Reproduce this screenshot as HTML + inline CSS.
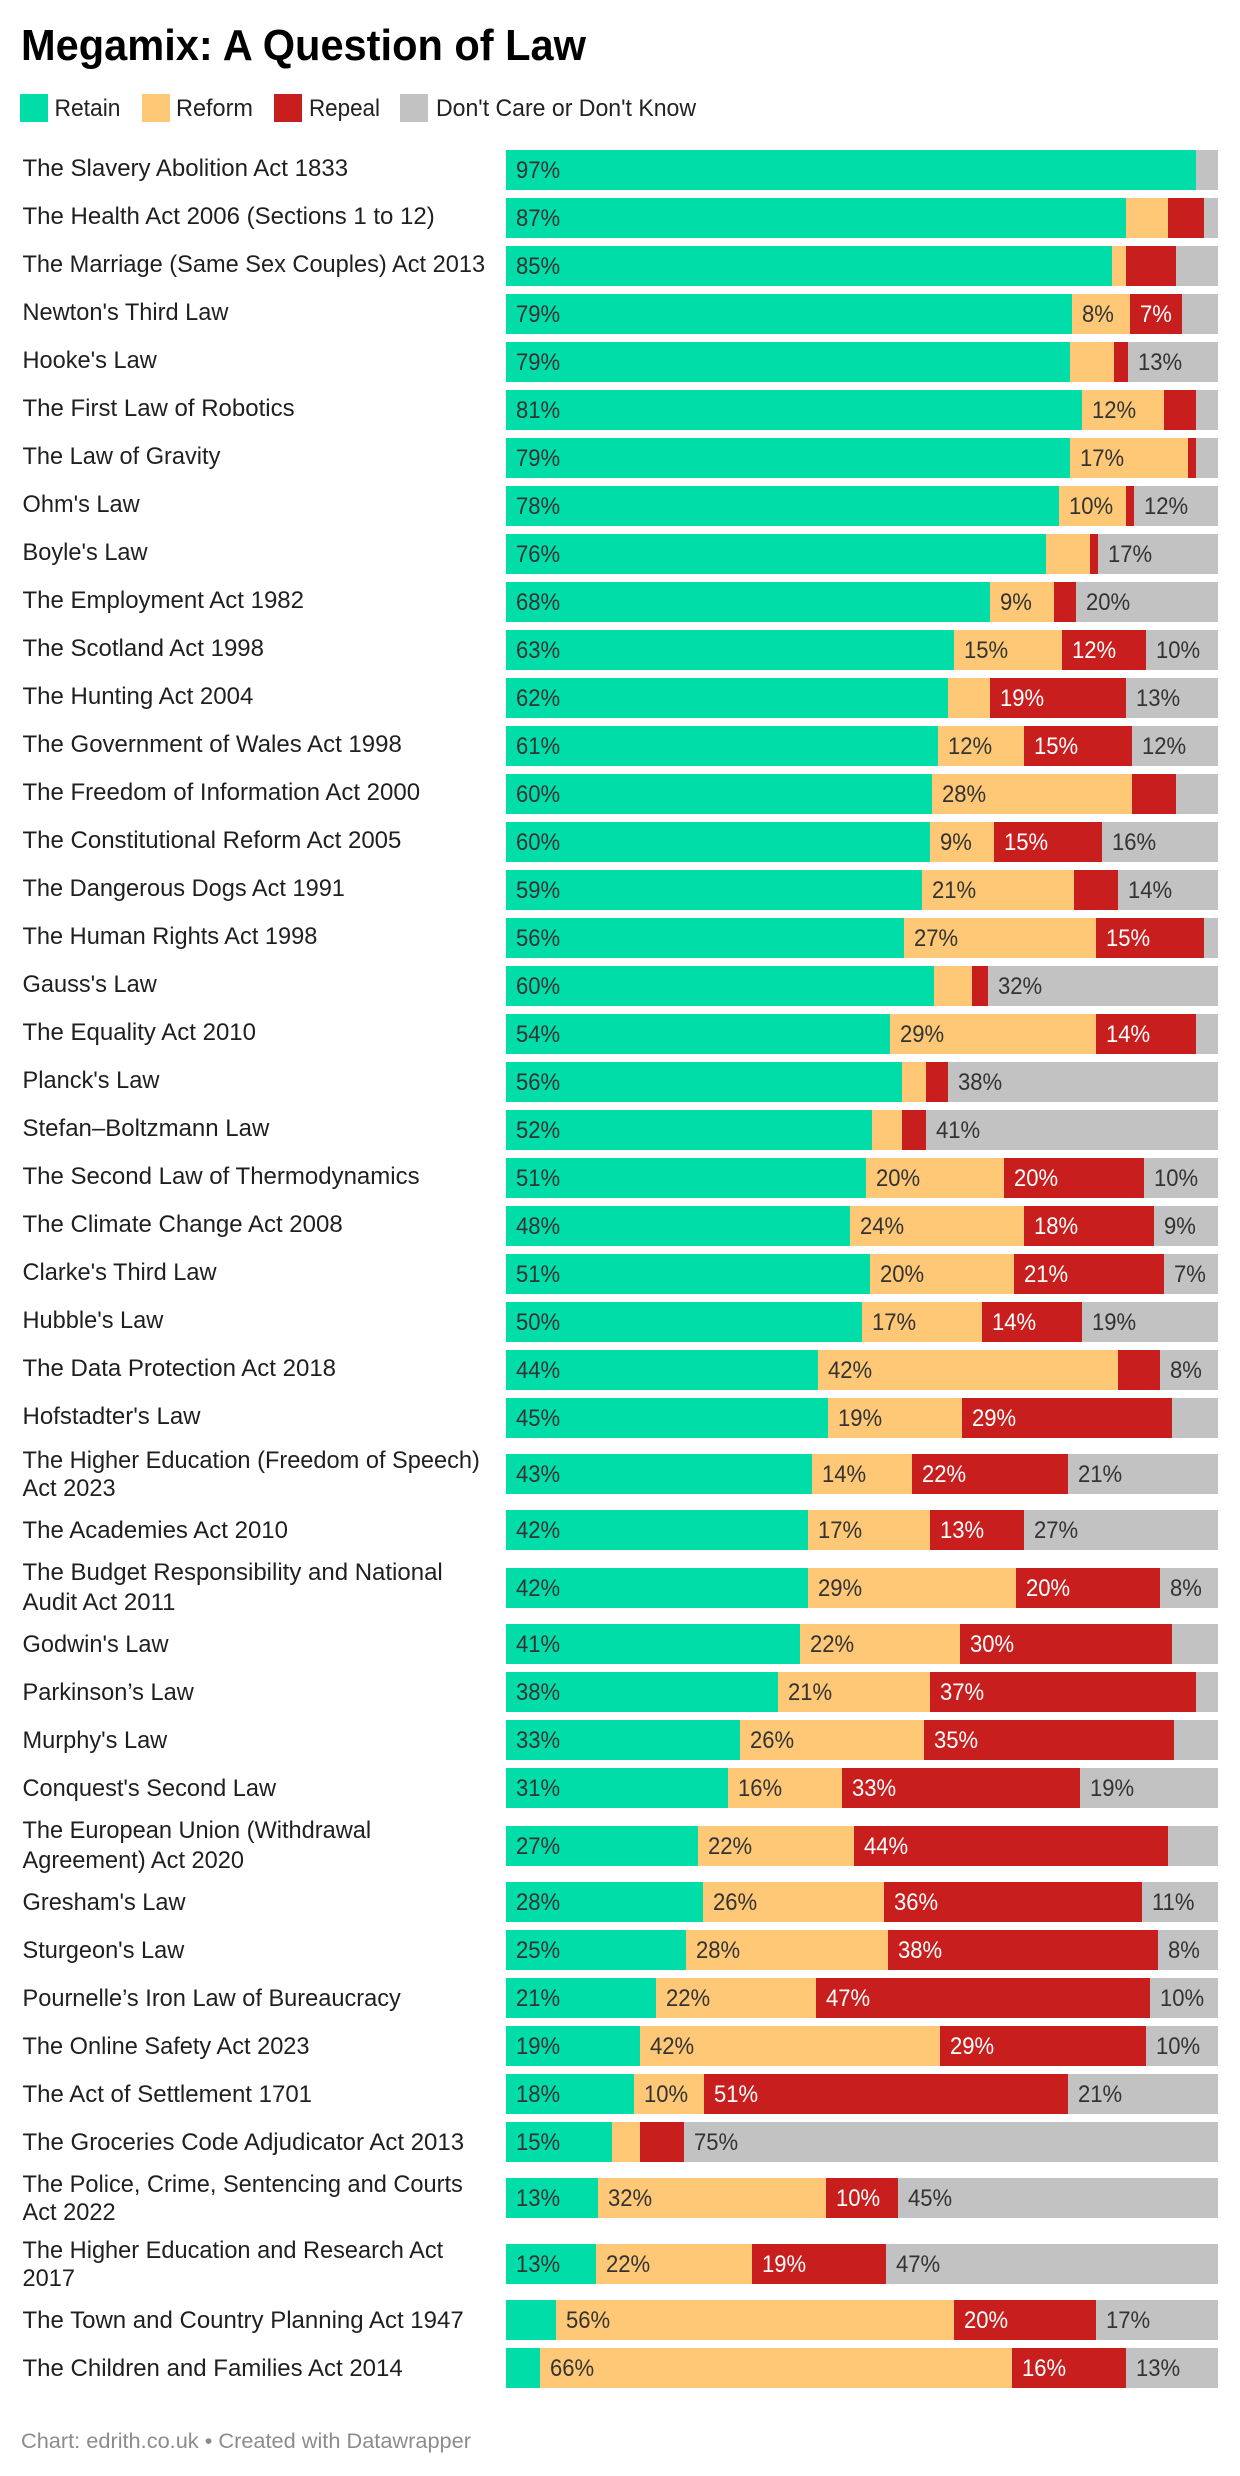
<!DOCTYPE html>
<html lang="en">
<head>
<meta charset="utf-8">
<title>Megamix: A Question of Law</title>
<style>
html,body{margin:0;padding:0;background:#fff;}
body{width:1240px;height:2476px;overflow:hidden;}
svg{display:block;font-family:"Liberation Sans",Arial,sans-serif;}
.cat{font-size:24px;fill:#1f1f1f;}
.val{font-size:24px;}
.leg{font-size:24px;fill:#222;}
</style>
</head>
<body>
<svg id="chart" width="1240" height="2476" viewBox="0 0 1240 2476" xmlns="http://www.w3.org/2000/svg">
  <text x="21" y="60" font-size="44" font-weight="700" fill="#000" textLength="565" lengthAdjust="spacingAndGlyphs">Megamix: A Question of Law</text>
  <g>
    <g>
      <rect x="20" y="94" width="28" height="28" fill="#00dda9"/>
      <text class="leg" x="54.5" y="116" textLength="66" lengthAdjust="spacingAndGlyphs">Retain</text>
    </g>
    <g>
      <rect x="142" y="94" width="28" height="28" fill="#fec876"/>
      <text class="leg" x="176" y="116" textLength="77" lengthAdjust="spacingAndGlyphs">Reform</text>
    </g>
    <g>
      <rect x="274" y="94" width="28" height="28" fill="#c81e1e"/>
      <text class="leg" x="309" y="116" textLength="71" lengthAdjust="spacingAndGlyphs">Repeal</text>
    </g>
    <g>
      <rect x="400" y="94" width="28" height="28" fill="#c2c2c2"/>
      <text class="leg" x="436" y="116" textLength="260" lengthAdjust="spacingAndGlyphs">Don't Care or Don't Know</text>
    </g>
  </g>
  <g id="rows"></g>
  <text x="21" y="2448" font-size="21" fill="#8c8c8c" textLength="450" lengthAdjust="spacingAndGlyphs">Chart: edrith.co.uk • Created with Datawrapper</text>
</svg>
<script>
const categories = [
  "The Slavery Abolition Act 1833","The Health Act 2006 (Sections 1 to 12)","The Marriage (Same Sex Couples) Act 2013",
  "Newton's Third Law","Hooke's Law","The First Law of Robotics","The Law of Gravity","Ohm's Law","Boyle's Law",
  "The Employment Act 1982","The Scotland Act 1998","The Hunting Act 2004","The Government of Wales Act 1998",
  "The Freedom of Information Act 2000","The Constitutional Reform Act 2005","The Dangerous Dogs Act 1991",
  "The Human Rights Act 1998","Gauss's Law","The Equality Act 2010","Planck's Law","Stefan–Boltzmann Law",
  "The Second Law of Thermodynamics","The Climate Change Act 2008","Clarke's Third Law","Hubble's Law",
  "The Data Protection Act 2018","Hofstadter's Law","The Higher Education (Freedom of Speech)\nAct 2023",
  "The Academies Act 2010","The Budget Responsibility and National\nAudit Act 2011","Godwin's Law","Parkinson’s Law",
  "Murphy's Law","Conquest's Second Law","The European Union (Withdrawal\nAgreement) Act 2020","Gresham's Law",
  "Sturgeon's Law","Pournelle’s Iron Law of Bureaucracy","The Online Safety Act 2023","The Act of Settlement 1701",
  "The Groceries Code Adjudicator Act 2013","The Police, Crime, Sentencing and Courts\nAct 2022",
  "The Higher Education and Research Act\n2017","The Town and Country Planning Act 1947","The Children and Families Act 2014"
];
const retain = [96.9,87.1,85.1,79.5,79.2,80.9,79.2,77.6,75.8,68.0,62.9,62.1,60.7,59.8,59.6,58.4,55.9,60.1,54.0,55.6,51.4,50.6,48.3,51.1,50.0,43.8,45.2,43.0,42.4,42.4,41.3,38.2,32.8,31.2,27.0,27.6,25.3,21.0,18.8,18.0,14.9,12.9,12.6,7.0,4.8];
const reform = [0,5.9,2.0,8.1,6.2,11.5,16.6,9.5,6.2,9.0,15.2,5.9,12.1,28.1,9.0,21.4,26.9,5.3,28.8,3.4,4.2,19.4,24.5,20.3,16.8,42.2,18.8,14.0,17.2,29.2,22.5,21.4,25.9,16.0,21.9,25.5,28.3,22.6,42.2,9.8,3.9,32.1,22.0,55.9,66.2];
const repeal = [0,5.0,7.0,7.4,2.0,4.5,1.1,1.1,1.2,3.0,11.8,19.1,15.1,6.2,15.1,6.2,15.2,2.3,14.1,3.1,3.4,19.6,18.2,21.0,14.1,5.8,29.6,22.0,13.2,20.2,29.8,37.3,35.1,33.4,44.1,36.2,38.0,46.8,28.9,51.2,6.2,10.0,18.8,19.9,16.1];
const dontCare = [3.1,2.0,5.9,5.0,12.6,3.1,3.1,11.8,16.8,20.0,10.1,12.9,12.1,5.9,16.3,14.0,2.0,32.3,3.1,37.9,41.0,10.4,9.0,7.6,19.1,8.2,6.4,21.0,27.2,8.2,6.4,3.1,6.2,19.4,7.0,10.7,8.4,9.6,10.1,21.0,75.0,45.0,46.6,17.2,12.9];
const retainLabels = [97,87,85,79,79,81,79,78,76,68,63,62,61,60,60,59,56,60,54,56,52,51,48,51,50,44,45,43,42,42,41,38,33,31,27,28,25,21,19,18,15,13,13,null,null];
const reformLabels = [null,null,null,8,null,12,17,10,null,9,15,null,12,28,9,21,27,null,29,null,null,20,24,20,17,42,19,14,17,29,22,21,26,16,22,26,28,22,42,10,null,32,22,56,66];
const repealLabels = [null,null,null,7,null,null,null,null,null,null,12,19,15,null,15,null,15,null,14,null,null,20,18,21,14,null,29,22,13,20,30,37,35,33,44,36,38,47,29,51,null,10,19,20,16];
const dontCareLabels = [null,null,null,null,13,null,null,12,17,20,10,13,12,null,16,14,null,32,null,38,41,10,9,7,19,8,null,21,27,8,null,null,null,19,null,11,8,10,10,21,75,45,47,17,13];

const SVG_NS = "http://www.w3.org/2000/svg";
const PLOT_LEFT = 506, PLOT_WIDTH = 712, FIRST_TOP = 150, BAR_H = 40, ROW_STEP = 48, WRAP_PAD = 8;
const extraBefore = new Set([29, 34, 42]);
const raisedFirstLine = new Set([29, 34]);
const wideLabelRows = new Set([0, 1, 5, 9, 10, 11, 12, 13, 14, 18, 20, 21, 22, 25, 26, 28, 29, 39, 40, 43, 44]);
const seriesDefs = [
  { key: "retain", values: retain, labels: retainLabels, fill: "#00dda9", ink: "#333" },
  { key: "reform", values: reform, labels: reformLabels, fill: "#fec876", ink: "#333" },
  { key: "repeal", values: repeal, labels: repealLabels, fill: "#c81e1e", ink: "#fff" },
  { key: "dont-care", values: dontCare, labels: dontCareLabels, fill: "#c2c2c2", ink: "#333" }
];
function xScale(pct) { return PLOT_LEFT + pct / 100 * PLOT_WIDTH; }
function make(tag) { return document.createElementNS(SVG_NS, tag); }

const rowsGroup = document.getElementById("rows");
let rowTop = FIRST_TOP;
categories.forEach(function (name, i) {
  const lines = name.split("\n");
  if (i > 0) {
    const prevWrapped = categories[i - 1].indexOf("\n") >= 0;
    rowTop += ROW_STEP + (prevWrapped ? WRAP_PAD : 0) + (lines.length > 1 ? WRAP_PAD : 0) + (extraBefore.has(i) ? 2 : 0);
  }
  const row = make("g");
  
  
  rowsGroup.appendChild(row);

  const singleBase = i < 27 ? 26 : 28;
  const labelScale = wideLabelRows.has(i) ? 1 : 0.983;
  lines.forEach(function (line, j) {
    const t = make("text");
    t.setAttribute("class", "cat");
    let baseY = lines.length > 1 ? rowTop + 14 + j * 28 : rowTop + singleBase;
    if (j === 0 && lines.length > 1 && raisedFirstLine.has(i)) { baseY -= 2; }
    t.setAttribute("transform", "translate(22.5," + baseY + ") scale(" + labelScale + ",1)");
    t.textContent = line;
    
    
    row.appendChild(t);
  });

  let cum = 0;
  seriesDefs.forEach(function (s) {
    const v = s.values[i];
    const x0 = Math.round(xScale(cum));
    const x1 = Math.round(xScale(cum + v));
    if (x1 > x0) {
      const r = make("rect");
      r.setAttribute("x", x0);
      r.setAttribute("y", rowTop);
      r.setAttribute("width", x1 - x0);
      r.setAttribute("height", BAR_H);
      r.setAttribute("fill", s.fill);
      
      
      row.appendChild(r);
    }
    if (s.labels[i] !== null) {
      const t = make("text");
      t.setAttribute("class", "val");
      t.setAttribute("fill", s.ink);
      t.setAttribute("transform", "translate(" + (x0 + 10) + "," + (rowTop + 28) + ") scale(0.92,1)");
      t.textContent = s.labels[i] + "%";
      
      
      row.appendChild(t);
    }
    cum += v;
  });
});
</script>
</body>
</html>
